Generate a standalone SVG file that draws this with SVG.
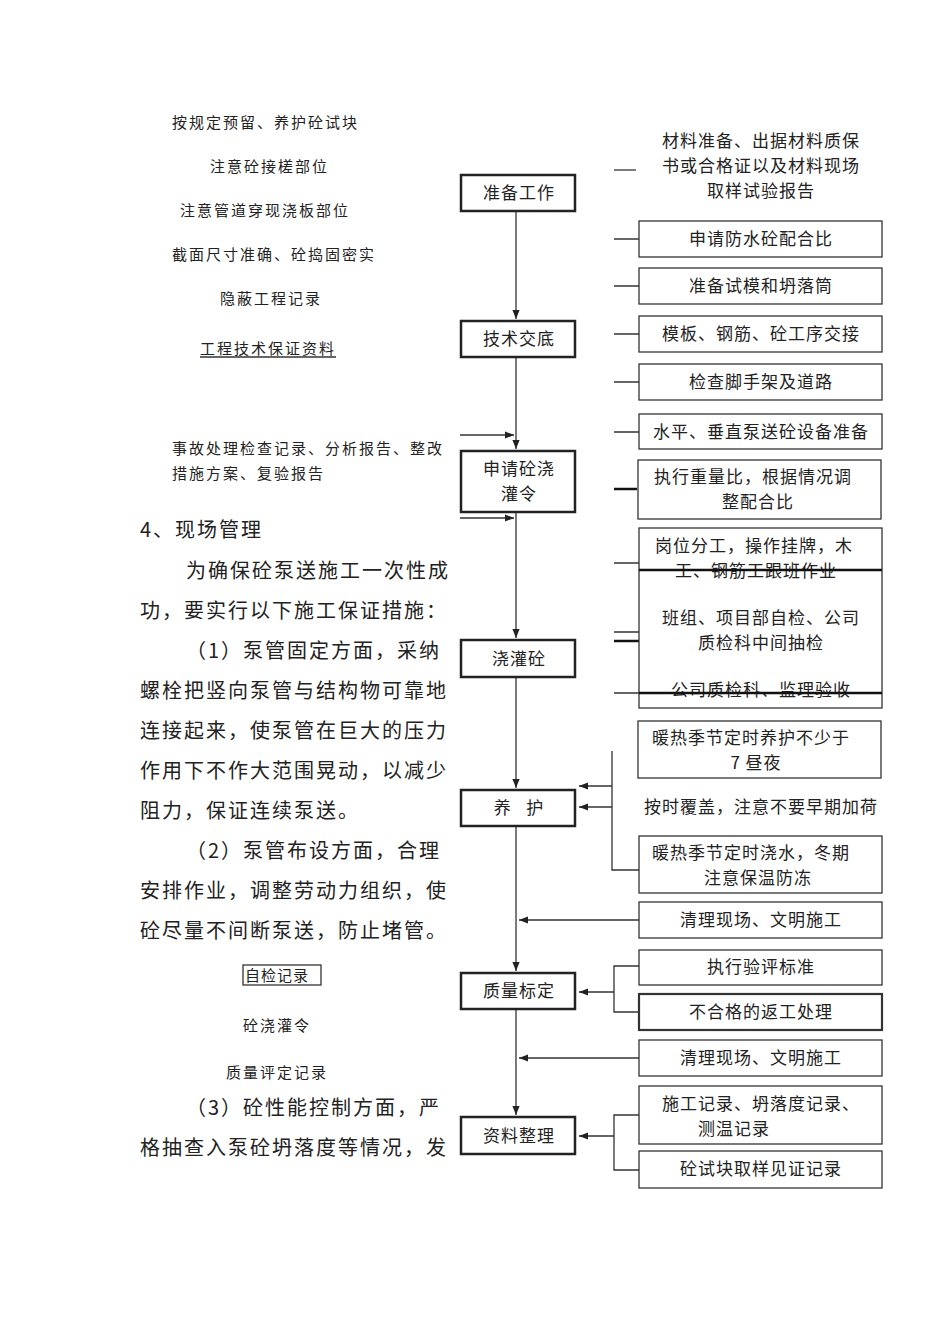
<svg xmlns="http://www.w3.org/2000/svg" width="950" height="1344" viewBox="0 0 950 1344">
<defs>
<style>
text{font-family:"Noto Sans CJK SC","Liberation Serif",serif;fill:#222;letter-spacing:2px}
.s{font-size:15px}
.m{font-size:17px;text-anchor:middle;letter-spacing:1px}
.b{font-size:20px}
.main{fill:#fff;stroke:#222;stroke-width:2.5}
.r{fill:#fff;stroke:#333;stroke-width:1.3}
.l{stroke:#333;stroke-width:1.3;fill:none}
.t{stroke:#111;stroke-width:2.5;fill:none}
</style>
<marker id="a" viewBox="0 0 10 10" refX="10" refY="5" markerWidth="7" markerHeight="7" orient="auto"><path d="M0,1 L10,5 L0,9 z" fill="#222"/></marker>
</defs>
<rect width="950" height="1344" fill="#fff"/>
<g id="connectors">
<path class="l" d="M516,211V319" marker-end="url(#a)"/>
<path class="l" d="M516,357V449" marker-end="url(#a)"/>
<path class="l" d="M516,512V638" marker-end="url(#a)"/>
<path class="l" d="M516,677V788" marker-end="url(#a)"/>
<path class="l" d="M516,826V971" marker-end="url(#a)"/>
<path class="l" d="M516,1009V1115" marker-end="url(#a)"/>
<path class="l" d="M460,435H514" marker-end="url(#a)"/>
<path class="l" d="M460,518H514" marker-end="url(#a)"/>
<path class="l" d="M614,170H636"/>
<path class="l" d="M614,239H639M614,286H639M614,334H639M614,382H639M614,432H639"/>
<path class="t" d="M614,489H637"/>
<path class="l" d="M614,563H639M614,632H639M614,693H639"/>
<path class="t" d="M614,641H639"/>
<path class="l" d="M612,751V870H639"/>
<path class="l" d="M612,786H579" marker-end="url(#a)"/>
<path class="l" d="M612,807H579" marker-end="url(#a)"/>
<path class="l" d="M639,920H519" marker-end="url(#a)"/>
<path class="l" d="M639,966H614V1012H639"/>
<path class="l" d="M614,992H579" marker-end="url(#a)"/>
<path class="l" d="M639,1058H519" marker-end="url(#a)"/>
<path class="l" d="M639,1115H614V1170H639"/>
<path class="l" d="M614,1136H579" marker-end="url(#a)"/>
</g>
<g id="n1"><rect class="main" x="461" y="175" width="114" height="36"/><text class="m" x="519" y="199">准备工作</text></g>
<g id="n2"><rect class="main" x="461" y="321" width="114" height="36"/><text class="m" x="519" y="345">技术交底</text></g>
<g id="n3"><rect class="main" x="461" y="451" width="114" height="61"/><text class="m" x="519" y="475">申请砼浇</text><text class="m" x="519" y="500">灌令</text></g>
<g id="n4"><rect class="main" x="461" y="640" width="114" height="37"/><text class="m" x="519" y="665">浇灌砼</text></g>
<g id="n5"><rect class="main" x="461" y="790" width="114" height="36"/><text class="m" x="519" y="814" xml:space="preserve">养   护</text></g>
<g id="n6"><rect class="main" x="461" y="973" width="114" height="36"/><text class="m" x="519" y="997">质量标定</text></g>
<g id="n7"><rect class="main" x="461" y="1117" width="114" height="37"/><text class="m" x="519" y="1142">资料整理</text></g>
<g id="top"><text class="m" x="761" y="147">材料准备、出据材料质保</text><text class="m" x="761" y="172">书或合格证以及材料现场</text><text class="m" x="761" y="197">取样试验报告</text></g>
<g id="r1"><rect class="r" x="639" y="221" width="243" height="36"/><text class="m" x="761" y="245">申请防水砼配合比</text></g>
<g id="r2"><rect class="r" x="639" y="268" width="243" height="36"/><text class="m" x="761" y="292">准备试模和坍落筒</text></g>
<g id="r3"><rect class="r" x="639" y="316" width="243" height="36"/><text class="m" x="761" y="340">模板、钢筋、砼工序交接</text></g>
<g id="r4"><rect class="r" x="639" y="364" width="243" height="36"/><text class="m" x="761" y="388">检查脚手架及道路</text></g>
<g id="r5"><rect class="r" x="639" y="414" width="243" height="35"/><text class="m" x="761" y="438">水平、垂直泵送砼设备准备</text></g>
<g id="r6"><rect class="r" x="638" y="460" width="243" height="59"/><text class="m" x="753" y="483">执行重量比，根据情况调</text><text class="m" x="758" y="508">整配合比</text></g>
<g id="r7"><rect class="r" x="639" y="528" width="243" height="180"/>
<text class="m" x="754" y="552">岗位分工，操作挂牌，木</text><text class="m" x="756" y="577">工、钢筋工跟班作业</text>
<text class="m" x="761" y="624">班组、项目部自检、公司</text><text class="m" x="761" y="649">质检科中间抽检</text>
<text class="m" x="761" y="696">公司质检科、监理验收</text>
<path class="t" d="M639,570H882M639,693H882"/></g>
<g id="r8"><rect class="r" x="638" y="721" width="243" height="57"/><text class="m" x="751" y="744">暖热季节定时养护不少于</text><text class="m" x="756" y="769">7 昼夜</text></g>
<g id="r9"><text class="m" x="761" y="813">按时覆盖，注意不要早期加荷</text></g>
<g id="r10"><rect class="r" x="639" y="836" width="243" height="57"/><text class="m" x="751" y="859">暖热季节定时浇水，冬期</text><text class="m" x="758" y="884">注意保温防冻</text></g>
<g id="r11"><rect class="r" x="639" y="902" width="243" height="36"/><text class="m" x="761" y="926">清理现场、文明施工</text></g>
<g id="r12"><rect class="r" x="639" y="950" width="243" height="35"/><text class="m" x="761" y="973">执行验评标准</text></g>
<g id="r13"><rect class="r" x="639" y="994" width="243" height="36" style="stroke-width:2.2"/><text class="m" x="761" y="1018">不合格的返工处理</text></g>
<g id="r14"><rect class="r" x="639" y="1040" width="243" height="36"/><text class="m" x="761" y="1064">清理现场、文明施工</text></g>
<g id="r15"><rect class="r" x="639" y="1086" width="243" height="58"/><text class="m" x="761" y="1110">施工记录、坍落度记录、</text><text class="m" x="734" y="1135">测温记录</text></g>
<g id="r16"><rect class="r" x="639" y="1151" width="243" height="37"/><text class="m" x="761" y="1175">砼试块取样见证记录</text></g>
<g id="left">
<text class="s" x="172" y="128">按规定预留、养护砼试块</text>
<text class="s" x="210" y="172">注意砼接槎部位</text>
<text class="s" x="180" y="216">注意管道穿现浇板部位</text>
<text class="s" x="172" y="260">截面尺寸准确、砼捣固密实</text>
<text class="s" x="220" y="304">隐蔽工程记录</text>
<text class="s" x="200" y="354">工程技术保证资料</text><path class="l" d="M200,357H336"/>
<text class="s" x="172" y="454">事故处理检查记录、分析报告、整改</text>
<text class="s" x="172" y="479">措施方案、复验报告</text>
<text class="b" x="140" y="537">4、现场管理</text>
<text class="b" x="186" y="578">为确保砼泵送施工一次性成</text>
<text class="b" x="140" y="618">功，要实行以下施工保证措施：</text>
<text class="b" x="186" y="658">（1）泵管固定方面，采纳</text>
<text class="b" x="140" y="698">螺栓把竖向泵管与结构物可靠地</text>
<text class="b" x="140" y="738">连接起来，使泵管在巨大的压力</text>
<text class="b" x="140" y="778">作用下不作大范围晃动，以减少</text>
<text class="b" x="140" y="818">阻力，保证连续泵送。</text>
<text class="b" x="186" y="858">（2）泵管布设方面，合理</text>
<text class="b" x="140" y="898">安排作业，调整劳动力组织，使</text>
<text class="b" x="140" y="938">砼尽量不间断泵送，防止堵管。</text>
<rect class="r" x="243" y="965" width="78" height="20"/><text class="s" x="245" y="981" style="letter-spacing:1px">自检记录</text>
<text class="s" x="243" y="1031">砼浇灌令</text>
<text class="s" x="226" y="1078">质量评定记录</text>
<text class="b" x="186" y="1115">（3）砼性能控制方面，严</text>
<text class="b" x="140" y="1155">格抽查入泵砼坍落度等情况，发</text>
</g>
</svg>
